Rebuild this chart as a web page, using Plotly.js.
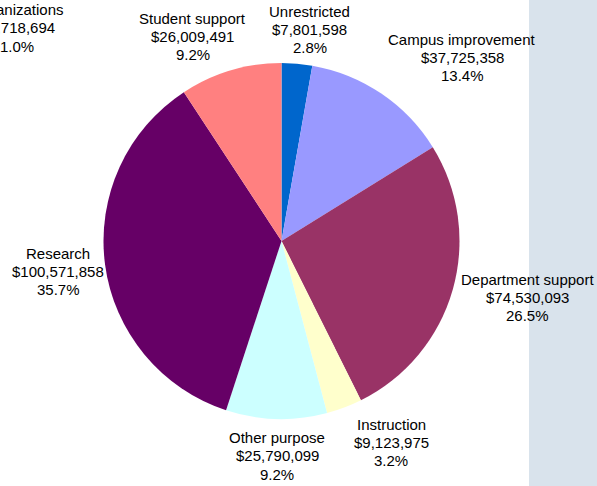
<!DOCTYPE html>
<html>
<head>
<meta charset="utf-8">
<script src="https://cdn.plot.ly/plotly-3.0.1.min.js"></script>
<style>html,body{margin:0;padding:0;background:#fff;}#chart{width:597px;height:486px;}</style>
</head>
<body>
<div id="chart"></div>
<script>
const categories = ["Unrestricted", "Campus improvement", "Department support", "Instruction", "Other purpose", "Research", "Student support"];
const amounts = [7801598, 37725358, 74530093, 9123975, 25790099, 100571858, 26009491];
const sliceColors = ["#0066CC", "#9999FF", "#993366", "#FFFFCC", "#CCFFFF", "#660066", "#FF8080"];
const cutLabelLines = ["Organizations", "$2,718,694", "1.0%"];

// label placement (pixel offsets of each label's centre from its slice's outer edge midpoint)
const labelOffsets = [[13, -34], [81, -36], [75, 8], [47, 35], [1, 37], [-47, 7], [-38, -34]];

const W = 597, H = 486;
const cx = 281.5, cy = 241, r = 178;
const FONT = { family: "Liberation Sans, Arial, sans-serif", size: 15, color: "#000" };
const LINE = 18.3;

const trace = {
  type: "pie",
  labels: categories,
  values: amounts,
  sort: false,
  direction: "clockwise",
  rotation: 0,
  marker: { colors: sliceColors, line: { width: 0 } },
  textinfo: "none",
  hoverinfo: "none",
  showlegend: false,
  domain: { x: [(cx - r) / W, (cx + r) / W], y: [(H - cy - r) / H, (H - cy + r) / H] }
};

const total = amounts.reduce((a, b) => a + b, 0);
const fmt = v => "$" + v.toLocaleString("en-US");
const annotations = [];
function addLines(lines, px, py) {
  lines.forEach((t, i) => {
    annotations.push({
      xref: "paper", yref: "paper",
      x: px / W, y: 1 - (py + (i - 1) * LINE) / H,
      xanchor: "center", yanchor: "middle", showarrow: false,
      text: t, font: FONT
    });
  });
}
let cum = 0;
amounts.forEach((v, i) => {
  const mid = (cum + v / 2) / total * 2 * Math.PI;
  cum += v;
  const ex = cx + r * Math.sin(mid), ey = cy - r * Math.cos(mid);
  const lx = ex + labelOffsets[i][0], ly = ey + labelOffsets[i][1];
  addLines([categories[i], fmt(v), (v / total * 100).toFixed(1) + "%"], lx, ly);
});
addLines(cutLabelLines, 17, 28);

const layout = {
  width: W, height: H,
  margin: { l: 0, r: 0, t: 0, b: 0 },
  paper_bgcolor: "#FFFFFF",
  showlegend: false,
  shapes: [{
    type: "rect", xref: "paper", yref: "paper", layer: "below",
    x0: 529 / W, x1: 1, y0: 0, y1: 1,
    fillcolor: "#D9E3EC", line: { width: 0 }
  }],
  annotations: annotations
};

Plotly.newPlot("chart", [trace], layout, { staticPlot: true, displayModeBar: false });
</script>
</body>
</html>
